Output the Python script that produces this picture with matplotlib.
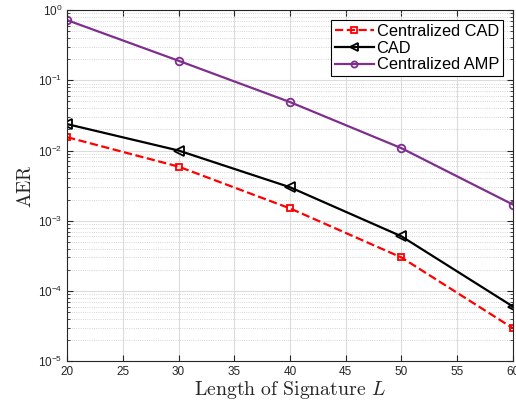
import matplotlib
matplotlib.use("Agg")
import matplotlib.pyplot as plt
import numpy as np
from matplotlib.ticker import LogLocator, NullFormatter, MultipleLocator

# data
L = [20, 30, 40, 50, 60]
cen_cad = [0.0155, 0.0059, 0.0015, 0.0003, 2.95e-5]
cad = [0.0238, 0.0100, 0.0030, 0.0006, 6.0e-5]
cen_amp = [0.72, 0.19, 0.049, 0.0108, 0.0017]

plt.rcParams['font.family'] = ['Liberation Sans', 'DejaVu Sans']
plt.rcParams['mathtext.fontset'] = 'cm'

fig = plt.figure(figsize=(5.16, 4.04), dpi=100)
ax = fig.add_axes([0.130, 0.106, 0.864, 0.869])

ax.semilogy(L, cen_cad, '--s', color='red', lw=1.6, ms=5, mfc='none', mew=1.3,
            label='Centralized CAD')
ax.semilogy(L, cad, '-<', color='black', lw=1.6, ms=6.5, mfc='none', mew=1.3,
            label='CAD')
ax.semilogy(L, cen_amp, '-o', color='#7E2F8E', lw=1.6, ms=5.5, mfc='none', mew=1.3,
            label='Centralized AMP')

ax.set_xlim(20, 60)
ax.set_ylim(1e-5, 1)
ax.xaxis.set_major_locator(MultipleLocator(5))
ax.yaxis.set_major_locator(LogLocator(base=10, numticks=10))
ax.yaxis.set_minor_locator(LogLocator(base=10, subs=np.arange(2, 10), numticks=10))
ax.yaxis.set_minor_formatter(NullFormatter())

ax.grid(True, which='major', color='#dcdcdc', lw=0.8)
ax.grid(True, which='minor', axis='y', color='#c8c8c8', lw=0.6, ls=':')
ax.set_axisbelow(True)
ax.tick_params(which='both', direction='in', top=True, right=True,
               labelsize=8.5, colors='#262626')
ax.tick_params(which='major', length=4)
ax.tick_params(which='minor', length=2)
for s in ax.spines.values():
    s.set_color('#262626')
    s.set_linewidth(0.8)

ax.set_xlabel(r'$\mathrm{Length\ of\ Signature}\ L$', fontsize=14.3, color='#262626',
              labelpad=1)
ax.set_ylabel(r'$\mathrm{AER}$', fontsize=14, color='#262626', labelpad=2)

leg = ax.legend(loc='upper right', fontsize=11.8, fancybox=False, framealpha=1,
                edgecolor='black', borderpad=0.25, labelspacing=0.1,
                handlelength=2.4, handletextpad=0.15, borderaxespad=0.6,
                markerscale=0.8)
leg.get_frame().set_linewidth(0.8)

fig.savefig('out.png', dpi=100)
